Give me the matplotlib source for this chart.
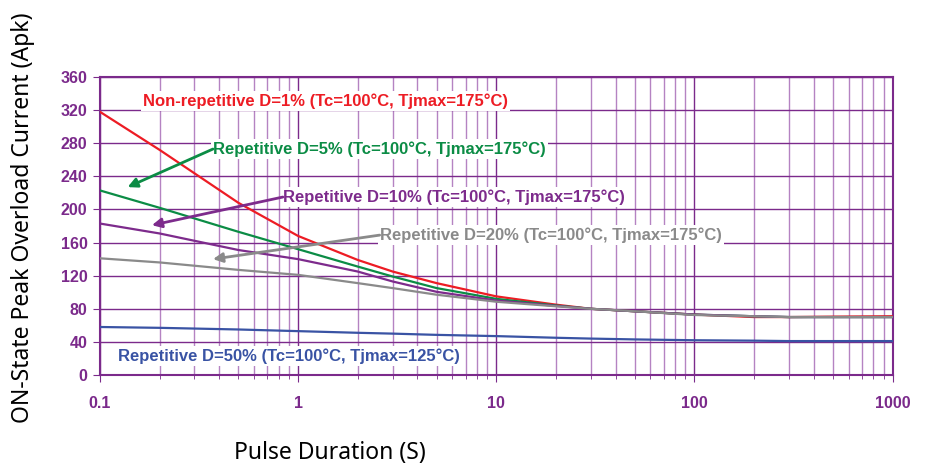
import matplotlib
matplotlib.use("Agg")
import matplotlib.pyplot as plt
from matplotlib.ticker import FixedLocator, NullFormatter, LogLocator

# Pulse duration (s) and curve values (Apk)
pulse = [0.1, 0.2, 0.5, 1, 2, 3, 5, 10, 20, 30, 50, 100, 200, 300, 500, 1000]
d1 = [318, 272, 208, 168, 139, 125, 111, 95, 85, 80, 77, 73, 70, 70, 70.5, 71]
d5 = [223, 202, 173, 152, 131, 119, 105, 92, 84, 80, 77, 73, 71, 70, 70, 70]
d10 = [183, 171, 151, 140, 125, 113, 100.5, 90, 83.5, 80, 77, 73, 71, 70, 70, 70]
d20 = [141, 136, 127, 121, 111, 105, 97, 88.5, 83, 80, 77, 72.5, 71, 70, 70, 70]
d50 = [58, 57, 55, 53, 51, 50, 48.5, 47, 45, 44, 43, 42, 41.5, 41, 41, 41]

labels = [
    "Non-repetitive D=1% (Tc=100°C, Tjmax=175°C)",
    "Repetitive D=5% (Tc=100°C, Tjmax=175°C)",
    "Repetitive D=10% (Tc=100°C, Tjmax=175°C)",
    "Repetitive D=20% (Tc=100°C, Tjmax=175°C)",
    "Repetitive D=50% (Tc=100°C, Tjmax=125°C)",
]
colors = ["#ed1c24", "#0b8c45", "#7d2b8c", "#8a8a8a", "#3953a4"]
# label anchor (x, y) and arrow tip in data units
label_pos = [(0.165, 331), (0.372, 273), (0.838, 215), (2.58, 169), (0.123, 23)]
arrow_tip = [None, (0.138, 227), (0.183, 181), (0.372, 140), None]

yticks = list(range(0, 361, 40))
xticks = [0.1, 1, 10, 100, 1000]
xticklabels = ["0.1", "1", "10", "100", "1000"]

purple = "#7b2a8b"
tickfont = ["Liberation Sans Narrow", "Liberation Sans", "DejaVu Sans"]

fig = plt.figure(figsize=(9.25, 4.69), dpi=100)
ax = fig.add_axes([0.108, 0.2004, 0.857, 0.6354])

ax.set_xscale("log")
ax.set_xlim(0.1, 1000)
ax.set_ylim(0, 360)

# grid
ax.xaxis.set_major_locator(FixedLocator(xticks))
ax.xaxis.set_minor_locator(LogLocator(base=10, subs=range(2, 10)))
ax.xaxis.set_minor_formatter(NullFormatter())
ax.set_yticks(yticks)
ax.grid(which="major", axis="both", color=purple, lw=1.0)
ax.grid(which="minor", axis="x", color="#b583c2", lw=1.0)
ax.set_axisbelow(True)

for s in ax.spines.values():
    s.set_color(purple)
    s.set_linewidth(1.5)

series = [d1, d5, d10, d20, d50]
for vals, c in zip(series, colors):
    ax.plot(pulse, vals, color=c, lw=1.6, zorder=3)

for lab, c, pos, tip in zip(labels, colors, label_pos, arrow_tip):
    ax.text(pos[0], pos[1], lab, color=c, fontsize=12, fontweight="bold",
            family=["Liberation Sans", "DejaVu Sans"], ha="left", va="center",
            zorder=4, bbox=dict(facecolor="white", edgecolor="none", pad=1.5))
    if tip is not None:
        ax.annotate("", xy=tip, xytext=pos, zorder=5,
                    arrowprops=dict(arrowstyle="-|>", color=c, lw=2,
                                    mutation_scale=14, shrinkA=0, shrinkB=0))

ax.set_xticklabels(xticklabels)
for lab in ax.get_xticklabels() + ax.get_yticklabels():
    lab.set_family(tickfont)
    lab.set_fontweight("bold")
    lab.set_fontsize(11.5)
    lab.set_color(purple)
ax.tick_params(axis="x", which="major", length=5, color=purple, pad=10)
ax.tick_params(axis="x", which="minor", length=3, color=purple)
ax.tick_params(axis="y", length=5, color=purple, pad=4)

ax.set_xlabel("Pulse Duration (S)", fontsize=16.5, family=["Noto Sans", "DejaVu Sans"])
ax.xaxis.set_label_coords(0.29, -0.222)
ax.set_ylabel("ON-State Peak Overload Current (Apk)", fontsize=16.5,
              family=["Noto Sans", "DejaVu Sans"])
ax.yaxis.set_label_coords(-0.082, 0.527)

fig.savefig("out.png", dpi=100)
